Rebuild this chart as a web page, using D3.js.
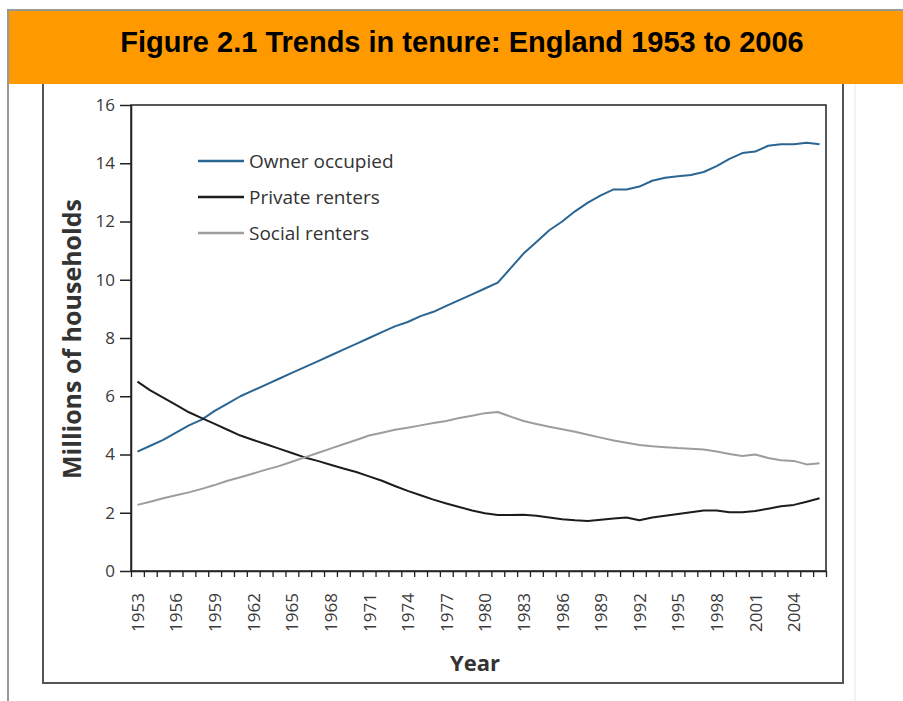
<!DOCTYPE html>
<html>
<head>
<meta charset="utf-8">
<script src="https://cdn.jsdelivr.net/npm/d3@7"></script>
<style>
  html, body { margin: 0; padding: 0; background: #ffffff; }
  svg { display: block; }
</style>
</head>
<body>
<svg id="chart" width="903" height="701"></svg>
<script>
// Households by tenure, England, millions
const years = [1953, 1954, 1955, 1956, 1957, 1958, 1959, 1960, 1961, 1962,
  1963, 1964, 1965, 1966, 1967, 1968, 1969, 1970, 1971, 1972,
  1973, 1974, 1975, 1976, 1977, 1978, 1979, 1980, 1981, 1982,
  1983, 1984, 1985, 1986, 1987, 1988, 1989, 1990, 1991, 1992,
  1993, 1994, 1995, 1996, 1997, 1998, 1999, 2000, 2001, 2002,
  2003, 2004, 2005, 2006];

const ownerOccupied = [4.1, 4.3, 4.5, 4.75, 5.0, 5.2, 5.5, 5.75, 6.0, 6.2,
  6.4, 6.6, 6.8, 7.0, 7.2, 7.4, 7.6, 7.8, 8.0, 8.2,
  8.4, 8.55, 8.75, 8.9, 9.1, 9.3, 9.5, 9.7, 9.9, 10.4,
  10.9, 11.3, 11.7, 12.0, 12.35, 12.65, 12.9, 13.1, 13.1, 13.2,
  13.4, 13.5, 13.55, 13.6, 13.7, 13.9, 14.15, 14.35, 14.4, 14.6,
  14.65, 14.65, 14.7, 14.65];

const privateRenters = [6.5, 6.2, 5.95, 5.7, 5.45, 5.25, 5.05, 4.85, 4.65, 4.5,
  4.35, 4.2, 4.05, 3.9, 3.78, 3.65, 3.52, 3.4, 3.25, 3.1,
  2.92, 2.75, 2.6, 2.45, 2.32, 2.2, 2.08, 1.98, 1.92, 1.92,
  1.93, 1.9, 1.84, 1.78, 1.74, 1.72, 1.76, 1.8, 1.84, 1.74,
  1.84, 1.9, 1.96, 2.02, 2.08, 2.08, 2.02, 2.02, 2.06, 2.14,
  2.22, 2.27, 2.38, 2.5];

const socialRenters = [2.27, 2.38, 2.5, 2.6, 2.7, 2.82, 2.95, 3.1, 3.22, 3.35,
  3.48, 3.6, 3.75, 3.9, 4.05, 4.2, 4.35, 4.5, 4.65, 4.75,
  4.85, 4.92, 5.0, 5.08, 5.15, 5.25, 5.33, 5.42, 5.46, 5.3,
  5.15, 5.05, 4.95, 4.87, 4.78, 4.68, 4.58, 4.48, 4.4, 4.33,
  4.28, 4.25, 4.22, 4.2, 4.17, 4.1, 4.02, 3.95, 4.0, 3.88,
  3.8, 3.78, 3.66, 3.7];

const yearLabels = [1953, 1956, 1959, 1962, 1965, 1968, 1971, 1974, 1977,
  1980, 1983, 1986, 1989, 1992, 1995, 1998, 2001, 2004];
const yTicks = [0, 2, 4, 6, 8, 10, 12, 14, 16];

const seriesNames = ["Owner occupied", "Private renters", "Social renters"];
const seriesValues = [ownerOccupied, privateRenters, socialRenters];
const seriesColors = ["#2b6592", "#1c1c1c", "#9d9d9d"];

const svg = d3.select("#chart");
const labelFont = "'Open Sans', 'Noto Sans', sans-serif";

// Page frame and heading band
svg.append("rect")
  .attr("x", 9).attr("y", 11).attr("width", 894).attr("height", 73)
  .attr("fill", "#ff9900");
svg.append("line")
  .attr("x1", 7).attr("x2", 903).attr("y1", 10).attr("y2", 10)
  .attr("stroke", "#999").attr("stroke-width", 2);
svg.append("line")
  .attr("x1", 8).attr("x2", 8).attr("y1", 9).attr("y2", 701)
  .attr("stroke", "#999").attr("stroke-width", 2);
svg.append("line")
  .attr("x1", 855).attr("x2", 855).attr("y1", 84).attr("y2", 701)
  .attr("stroke", "#e6e6e6").attr("stroke-width", 1);
svg.append("path")
  .attr("d", "M43,84V683H843V84")
  .attr("fill", "none").attr("stroke", "#555").attr("stroke-width", 2);

svg.append("text")
  .attr("x", 462).attr("y", 52)
  .attr("text-anchor", "middle")
  .attr("font-family", "'Liberation Sans', Arial, sans-serif")
  .attr("font-weight", "bold").attr("font-size", 29)
  .attr("fill", "#000")
  .text("Figure 2.1 Trends in tenure: England 1953 to 2006");

// Scales
const plot = { left: 131, right: 826, top: 105, bottom: 571 };
const x = d3.scaleLinear()
  .domain([years[0] - 0.5, years[years.length - 1] + 0.5])
  .range([plot.left, plot.right]);
const y = d3.scaleLinear().domain([0, 16]).range([plot.bottom, plot.top]);

// Plot box
svg.append("rect")
  .attr("x", plot.left).attr("y", plot.top)
  .attr("width", plot.right - plot.left).attr("height", plot.bottom - plot.top)
  .attr("fill", "none").attr("stroke", "#222").attr("stroke-width", 1.5);

// Y axis
const yAxis = svg.append("g")
  .attr("transform", `translate(${plot.left},0)`)
  .call(d3.axisLeft(y).tickValues(yTicks).tickSize(11).tickPadding(5).tickSizeOuter(0));
yAxis.select(".domain").attr("stroke", "#222").attr("stroke-width", 1.5);
yAxis.selectAll(".tick line").attr("stroke", "#222").attr("stroke-width", 1.5);
yAxis.selectAll(".tick text")
  .attr("font-family", labelFont).attr("font-size", 17).attr("fill", "#3a3a3a");

// X axis: a tick at every year boundary, labels every third year
const yearBounds = years.map(d => d - 0.5).concat([years[years.length - 1] + 0.5]);
const xTicks = svg.append("g")
  .attr("transform", `translate(0,${plot.bottom})`)
  .call(d3.axisBottom(x).tickValues(yearBounds).tickSize(6).tickFormat("").tickSizeOuter(0));
xTicks.select(".domain").attr("stroke", "#222").attr("stroke-width", 1.5);
xTicks.selectAll(".tick line").attr("stroke", "#222").attr("stroke-width", 1.3);

const xLabels = svg.append("g")
  .attr("transform", `translate(0,${plot.bottom})`)
  .call(d3.axisBottom(x).tickValues(yearLabels).tickSize(0).tickFormat(d3.format("d")));
xLabels.select(".domain").remove();
xLabels.selectAll(".tick text")
  .attr("font-family", labelFont).attr("font-size", 17).attr("fill", "#3a3a3a")
  .attr("text-anchor", "end")
  .attr("transform", "rotate(-90)")
  .attr("x", -22).attr("y", 0).attr("dy", "0.35em");

// Axis titles
svg.append("text")
  .attr("transform", "translate(72,339) rotate(-90)")
  .attr("text-anchor", "middle").attr("dy", "0.35em")
  .attr("font-family", labelFont).attr("font-weight", "bold").attr("font-size", 25)
  .attr("fill", "#333")
  .text("Millions of households");
svg.append("text")
  .attr("x", 475).attr("y", 671)
  .attr("text-anchor", "middle")
  .attr("font-family", labelFont).attr("font-weight", "bold").attr("font-size", 22)
  .attr("fill", "#333")
  .text("Year");

// Series lines
const line = d3.line()
  .x((d, i) => x(years[i]))
  .y(d => y(d));
seriesValues.forEach((vals, k) => {
  svg.append("path")
    .datum(vals)
    .attr("d", line)
    .attr("fill", "none")
    .attr("stroke", seriesColors[k])
    .attr("stroke-width", 2)
    .attr("stroke-linejoin", "round");
});

// Legend
const legend = svg.append("g");
seriesNames.forEach((name, k) => {
  const ly = 161 + k * 36;
  legend.append("line")
    .attr("x1", 198).attr("x2", 244).attr("y1", ly).attr("y2", ly)
    .attr("stroke", seriesColors[k]).attr("stroke-width", 2.5);
  legend.append("text")
    .attr("x", 249).attr("y", ly).attr("dy", "0.35em")
    .attr("font-family", labelFont).attr("font-size", 19).attr("fill", "#333")
    .text(name);
});
</script>
</body>
</html>
